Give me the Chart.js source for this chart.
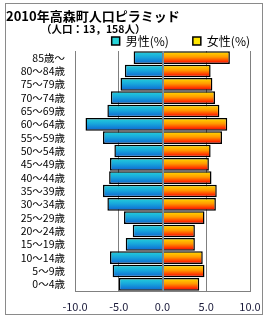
<!DOCTYPE html>
<html>
<head>
<meta charset="utf-8">
<script src="https://cdn.jsdelivr.net/npm/chart.js@4"></script>
<style>
  html, body { margin: 0; padding: 0; background: #fff; }
  #wrap { position: relative; width: 270px; height: 320px; }
</style>
</head>
<body>
<div id="wrap"><canvas id="pyramid" width="270" height="320"></canvas></div>
<script>
const titleText = '2010年高森町人口ピラミッド';
const subtitleText = '（人口：13，158人）';

const ageLabels = ['85歳～', '80～84歳', '75～79歳', '70～74歳', '65～69歳', '60～64歳',
    '55～59歳', '50～54歳', '45～49歳', '40～44歳', '35～39歳', '30～34歳',
    '25～29歳', '20～24歳', '15～19歳', '10～14歳', '5～9歳', '0～4歳'];

// 男性は左側に出すのでマイナス値
const malePct = [-3.3, -4.3, -4.8, -5.9, -6.3, -8.8, -6.8, -5.5, -6.0, -6.1,
    -6.8, -6.3, -4.4, -3.4, -4.2, -6.0, -5.7, -5.0];
const femalePct = [7.7, 5.5, 5.7, 6.0, 6.5, 7.4, 6.8, 5.5, 5.3, 5.6,
    6.2, 6.1, 4.8, 3.7, 3.7, 4.6, 4.8, 4.2];

const tickValues = [-10, -5, 0, 5, 10];

const JP_FONT = '"Noto Sans CJK JP", "Noto Sans", sans-serif';

// 棒ごとに縦グラデーションを作る
function barGradient(context, stops, fallback) {
    const chart = context.chart;
    const yScale = chart.scales && chart.scales.y;
    if (context.dataIndex === undefined || !yScale || !chart.chartArea) return fallback;
    const center = yScale.getPixelForValue(context.dataIndex);
    const half = yScale.height / ageLabels.length / 2;
    const g = chart.ctx.createLinearGradient(0, center - half, 0, center + half);
    stops.forEach(s => g.addColorStop(s[0], s[1]));
    return g;
}

const frameAndTitle = {
    id: 'frameAndTitle',
    beforeDraw(chart) {
        const c = chart.ctx;
        c.save();
        c.strokeStyle = '#8a8a8a';
        c.lineWidth = 1;
        c.strokeRect(5.5, 3.5, 257, 311);
        c.restore();
    },
    afterDatasetsDraw(chart) {
        // 0の線は棒の上に重ねる
        const c = chart.ctx;
        const x0 = Math.round(chart.scales.x.getPixelForValue(0)) + 0.5;
        c.save();
        c.strokeStyle = '#6f93b0';
        c.lineWidth = 1;
        c.beginPath();
        c.moveTo(x0, chart.chartArea.top);
        c.lineTo(x0, chart.chartArea.bottom);
        c.stroke();
        c.restore();
    },
    afterDraw(chart) {
        const c = chart.ctx;
        c.save();
        c.fillStyle = '#000';
        c.textBaseline = 'middle';
        c.font = 'bold 13px ' + JP_FONT;
        c.fillText(titleText, 6, 16);
        c.font = 'bold 10.5px ' + JP_FONT;
        c.fillText(subtitleText, 41, 29);
        c.restore();
    }
};

const ctx = document.getElementById('pyramid').getContext('2d');
new Chart(ctx, {
    type: 'bar',
    data: {
        labels: ageLabels,
        datasets: [{
            label: '男性(%)',
            data: malePct,
            backgroundColor: c => barGradient(c, [[0, '#26d4d8'], [0.45, '#18a8dc'], [1, '#0d5fd0']], '#1aa0dc'),
            borderColor: '#000',
            borderWidth: 1.5,
            borderSkipped: 'start',
            barPercentage: 0.95,
            categoryPercentage: 1
        }, {
            label: '女性(%)',
            data: femalePct,
            backgroundColor: c => barGradient(c, [[0, '#ffe600'], [0.45, '#ff9a00'], [0.8, '#ff2a00'], [1, '#b00000']], '#ff6a00'),
            borderColor: '#000',
            borderWidth: 1.5,
            borderSkipped: 'start',
            barPercentage: 0.95,
            categoryPercentage: 1
        }]
    },
    options: {
        indexAxis: 'y',
        responsive: false,
        animation: false,
        devicePixelRatio: 1,
        layout: { padding: { top: 35, left: 5, right: 20, bottom: 0 } },
        plugins: {
            title: { display: false },
            tooltip: { enabled: false },
            legend: {
                position: 'top',
                align: 'end',
                maxHeight: 16,
                labels: {
                    boxWidth: 8,
                    boxHeight: 8,
                    padding: 0,
                    color: '#000',
                    font: { family: JP_FONT, size: 12 },
                    generateLabels: chart => {
                        const items = Chart.defaults.plugins.legend.labels.generateLabels(chart);
                        // 凡例の間隔をあける
                        items[0].text = items[0].text + '　　';
                        return items;
                    }
                }
            }
        },
        scales: {
            x: {
                stacked: true,
                min: -10,
                max: 10,
                afterBuildTicks: axis => { axis.ticks = tickValues.map(v => ({ value: v })); },
                afterFit: axis => { axis.height = 29; },
                ticks: {
                    color: '#1a1a3a',
                    font: { family: JP_FONT, size: 11 },
                    padding: 9,
                    maxRotation: 0,
                    callback: v => v.toFixed(1)
                },
                grid: { color: '#808080', drawTicks: false },
                border: { color: '#808080' }
            },
            y: {
                stacked: true,
                afterFit: axis => { axis.width = 70; },
                ticks: {
                    color: '#000',
                    font: { family: JP_FONT, size: 10.5 },
                    padding: 10,
                    autoSkip: false
                },
                grid: { display: false, drawTicks: false },
                border: { color: '#808080' }
            }
        }
    },
    plugins: [frameAndTitle]
});
</script>
</body>
</html>
